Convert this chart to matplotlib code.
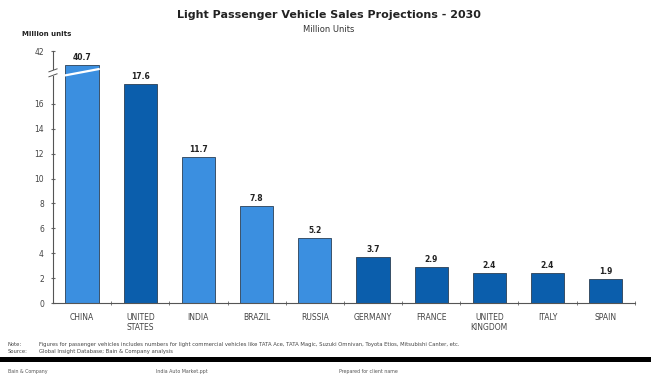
import matplotlib.pyplot as plt
import numpy as np
from matplotlib.lines import Line2D
from matplotlib.patches import Rectangle

countries = ['CHINA', 'UNITED\nSTATES', 'INDIA', 'BRAZIL', 'RUSSIA',
             'GERMANY', 'FRANCE', 'UNITED\nKINGDOM', 'ITALY', 'SPAIN']
sales = [40.7, 17.6, 11.7, 7.8, 5.2, 3.7, 2.9, 2.4, 2.4, 1.9]
emerging = [True, False, True, True, True, False, False, False, False, False]
yticks = [0, 2, 4, 6, 8, 10, 12, 14, 16]

LIGHT = '#3b8fe0'
DARK = '#0b5eac'
AX_TOP = 20.24      # axis top on the drawn scale, labelled 42
BREAK_AT = 18.5     # where the axis is broken
CAP = 19.1          # drawn height of bars beyond the break

fig = plt.figure(figsize=(6.51, 3.81), dpi=100)
ax = fig.add_axes([0.0814, 0.2047, 0.8936, 0.661])

x = np.arange(len(countries))
drawn = [v if v < BREAK_AT else CAP for v in sales]
colors = [LIGHT if e else DARK for e in emerging]
bars = ax.bar(x, drawn, width=0.57, color=colors, edgecolor='#2b3f55', linewidth=0.6, zorder=2)

for xi, d, v in zip(x, drawn, sales):
    ax.text(xi, d + 0.25, '{:.1f}'.format(v), ha='center', va='bottom',
            fontsize=5.5, fontweight='bold', color='#222222')

# break stripe across the truncated bar
b = bars[0]
ax.add_line(Line2D([b.get_x(), b.get_x() + b.get_width()], [BREAK_AT - 0.2, BREAK_AT + 0.3],
                   color='white', linewidth=1.6, zorder=3))

ax.set_xlim(-0.5, len(countries) - 0.5)
ax.set_ylim(0, AX_TOP)
ax.set_yticks(yticks + [AX_TOP])
ax.set_yticklabels([str(t) for t in yticks] + ['42'])
ax.set_xticks(x)
ax.set_xticklabels(countries)
ax.set_xticks(np.arange(len(countries)) + 0.5, minor=True)
ax.tick_params(axis='x', which='major', length=0, pad=7, labelsize=5.5, labelcolor='#444444')
ax.tick_params(axis='x', which='minor', length=3, direction='inout', color='#666666')
ax.tick_params(axis='y', length=3, direction='inout', labelsize=5.5, labelcolor='#444444',
               color='#666666', pad=5)

for s in ['top', 'right']:
    ax.spines[s].set_visible(False)
for s in ['left', 'bottom']:
    ax.spines[s].set_color('#555555')
    ax.spines[s].set_linewidth(0.8)

# axis break marker
ax.add_patch(Rectangle((-0.55, BREAK_AT - 0.25), 0.1, 0.5, transform=ax.transData,
                       facecolor='white', edgecolor='none', clip_on=False, zorder=4))
for dy in (-0.2, 0.2):
    ax.add_line(Line2D([-0.57, -0.43], [BREAK_AT + dy - 0.12, BREAK_AT + dy + 0.12],
                       color='#555555', linewidth=0.7, clip_on=False, zorder=5))

fig.text(0.505, 0.96, 'Light Passenger Vehicle Sales Projections - 2030', ha='center',
         va='center', fontsize=8, fontweight='bold', color='#222222')
fig.text(0.505, 0.923, 'Million Units', ha='center', va='center', fontsize=6, color='#333333')
fig.text(0.034, 0.91, 'Million units', ha='left', va='center', fontsize=5,
         fontweight='bold', color='#222222')

fig.text(0.012, 0.095, 'Note:', fontsize=3.8, va='center', color='#444444')
fig.text(0.06, 0.095, 'Figures for passenger vehicles includes numbers for light commercial vehicles like TATA Ace, '
         'TATA Magic, Suzuki Omnivan, Toyota Etios, Mitsubishi Canter, etc.',
         fontsize=3.8, va='center', color='#444444')
fig.text(0.012, 0.077, 'Source:', fontsize=3.8, va='center', color='#444444')
fig.text(0.06, 0.077, 'Global Insight Database; Bain & Company analysis',
         fontsize=3.8, va='center', color='#444444')
fig.add_artist(Rectangle((0, 0.05), 1, 0.014, transform=fig.transFigure,
                         facecolor='black', edgecolor='none'))
fig.text(0.012, 0.025, 'Bain & Company', fontsize=3.4, va='center', color='#555555')
fig.text(0.24, 0.025, 'India Auto Market.ppt', fontsize=3.4, va='center', color='#555555')
fig.text(0.52, 0.025, 'Prepared for client name', fontsize=3.4, va='center', color='#555555')

fig.savefig('out.png', dpi=100, facecolor='white')
